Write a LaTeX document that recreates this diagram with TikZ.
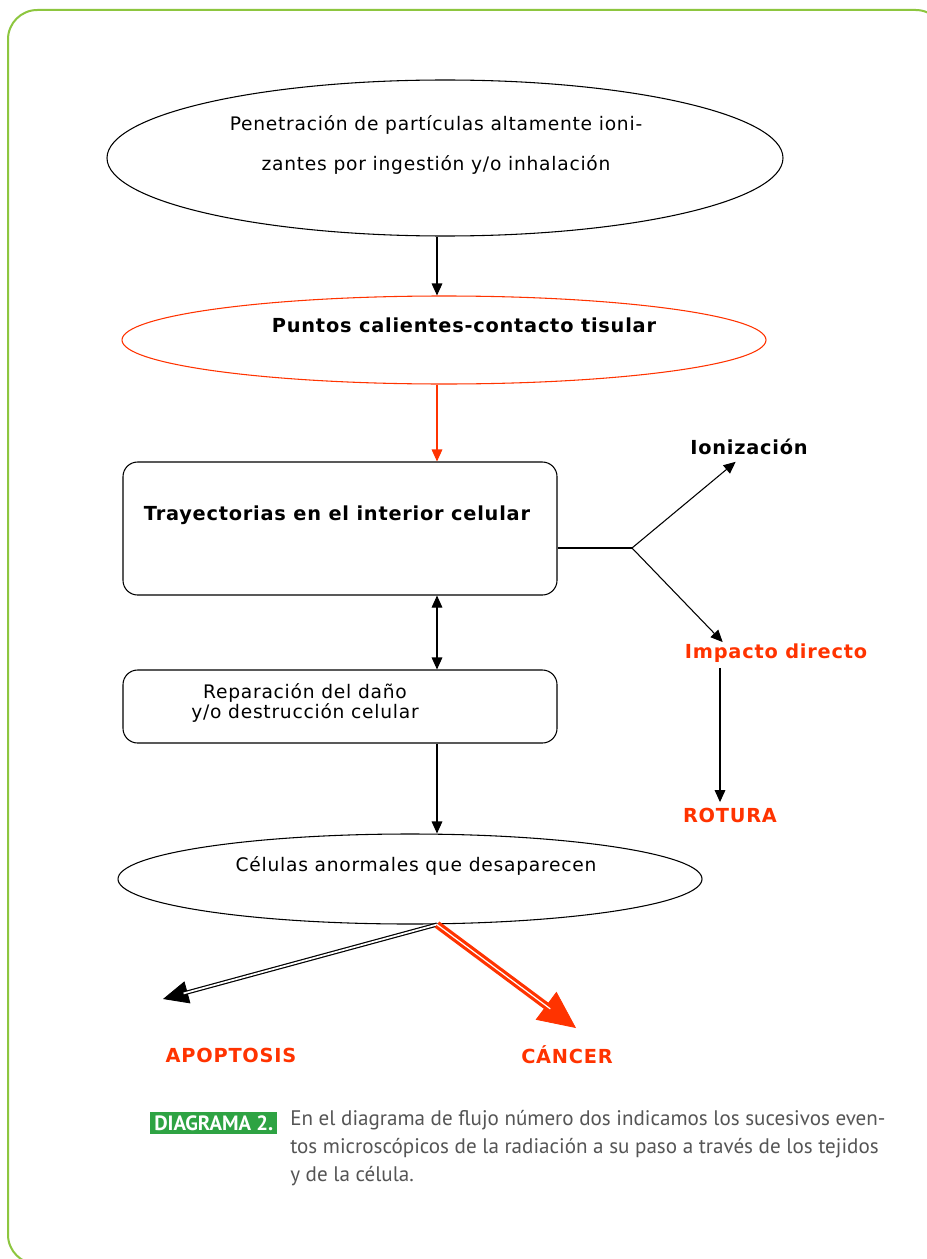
\documentclass[tikz,border=0pt]{standalone}
\usepackage{fontspec}
\setmainfont{DejaVu Sans}
\newfontfamily\capfont{PT Sans}
\newfontfamily\spaced[LetterSpace=4]{DejaVu Sans}
\usetikzlibrary{shapes.geometric, arrows.meta, positioning, calc}

\definecolor{framegreen}{HTML}{8DC63F}
\definecolor{tabgreen}{HTML}{2EA343}
\definecolor{hotred}{HTML}{FF3300}
\definecolor{capgray}{HTML}{555555}

\begin{document}
\begin{tikzpicture}[
    x=0.75pt, y=-0.75pt,
    oval/.style={ellipse, draw, line width=0.8pt, inner sep=0pt},
    block/.style={rectangle, draw, line width=0.8pt, rounded corners=11pt, minimum width=325.5pt},
    txt/.style={font=\spaced\fontsize{14}{15.5}\selectfont, align=center, inner sep=0pt},
    boldtxt/.style={font=\spaced\fontsize{14.5}{16}\selectfont\bfseries, align=center, inner sep=0pt},
    arrow/.style={line width=0.8pt, -{Triangle[length=9pt, width=8pt]}},
    bothways/.style={line width=0.8pt, {Triangle[length=9pt, width=8pt]}-{Triangle[length=9pt, width=8pt]}},
    dblblack/.style={draw=black, line width=0.9pt, double=white, double distance=1.3pt},
    dblred/.style={draw=hotred, line width=2.4pt, double=white, double distance=0.9pt}
]

\fill[white] (0,0) rectangle (926,1259);
\useasboundingbox (0,0) rectangle (926,1259);

% frame
\draw[framegreen, line width=1.5pt, rounded corners=22pt] (8,10) rectangle (945,1264);

\coordinate (spine) at (437,0);

% Nodes

\node[oval, minimum width=507pt, minimum height=117pt] (penetra) at (445,158) {};
\node[txt, font=\spaced\fontsize{14}{30}\selectfont] (penetra_txt) at (436,145) {Penetraci\'on de part\'iculas altamente ioni-\\zantes por ingesti\'on y/o inhalaci\'on};

\node[oval, draw=hotred, minimum width=483pt, minimum height=66pt] (calientes) at (444,340) {};
\node[boldtxt] (calientes_txt) at (464,325) {Puntos calientes-contacto tisular};

\node[block, minimum height=99.75pt] (trayect) at (340,528.5) {};
\node[boldtxt] (trayect_txt) at (337,515) {Trayectorias en el interior celular};

\node[block, minimum height=54.75pt] (repara) at (340,706.5) {};
\node[txt] (repara_txt) at (305,703) {Reparaci\'on del da\~no\\y/o destrucci\'on celular};

\node[oval, minimum width=438pt, minimum height=67.5pt] (anormal) at (410,879) {};
\node[txt] (anormal_txt) at (416,866) {C\'elulas anormales que desaparecen};

% Branch on the right

\coordinate (branch) at (632,548);
\node[boldtxt] (ioniz) at (749,447) {Ionizaci\'on};
\node[boldtxt, text=hotred] (impacto) at (776,653) {Impacto directo};
\node[boldtxt, text=hotred] (rotura) at (730,815) {ROTURA};

% Outcomes

\node[boldtxt, text=hotred] (apopt) at (231,1055) {APOPTOSIS};
\node[boldtxt, text=hotred] (cancer) at (567,1055) {C\'ANCER};
\coordinate (apopt_tip) at (163,999);
\coordinate (cancer_tip) at (576,1028);

% Caption

\node[fill=tabgreen, text=white, font=\capfont\fontsize{15.5}{17}\selectfont\bfseries, inner xsep=3pt, inner ysep=2.5pt, anchor=west] (diag) at (150,1123) {DIAGRAMA 2.};
\node[text=capgray, font=\capfont\fontsize{15.8}{21}\selectfont, align=left, inner sep=0pt, anchor=north west] (caption) at (290,1110) {En el diagrama de flujo n\'umero dos indicamos los sucesivos even-\\tos microsc\'opicos de la radiaci\'on a su paso a trav\'es de los tejidos\\y de la c\'elula.};

% Connectors

\draw[arrow] (penetra.south -| spine) -- (calientes.north -| spine);
\draw[arrow, hotred] (calientes.south -| spine) -- (trayect.north -| spine);
\draw[bothways] (trayect.south -| spine) -- (repara.north -| spine);
\draw[arrow] (repara.south -| spine) -- (anormal.north -| spine);

\draw[line width=0.8pt] (trayect.east |- branch) -- (branch);
\draw[arrow] (branch) -- ([xshift=-10pt, yshift=-5pt]ioniz.south);
\draw[arrow] (branch) -- ([xshift=-40pt, yshift=1pt]impacto.north);
\draw[arrow] ([xshift=-42pt, yshift=-4pt]impacto.south) -- ([xshift=-42pt, yshift=4pt]impacto.south |- rotura.north);

\draw[-{Triangle[length=19pt, width=17pt]}, line width=0.6pt] (anormal.south -| spine) -- (apopt_tip);
\draw[dblblack, shorten >=16pt] (anormal.south -| spine) -- (apopt_tip);
\draw[-{Triangle[length=28pt, width=26pt]}, hotred, line width=0.6pt] (anormal.south -| spine) -- (cancer_tip);
\draw[dblred, shorten >=24pt] (anormal.south -| spine) -- (cancer_tip);

\end{tikzpicture}
\end{document}
